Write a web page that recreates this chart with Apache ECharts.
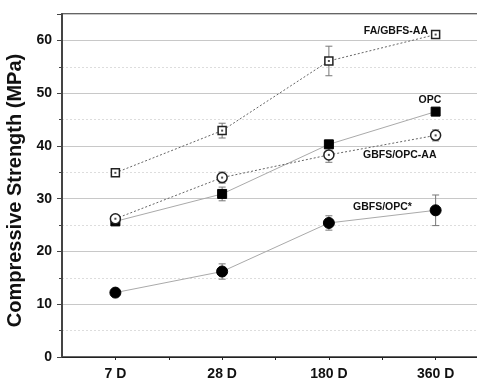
<!DOCTYPE html>
<html>
<head>
<meta charset="utf-8">
<script src="https://cdn.jsdelivr.net/npm/echarts@6/dist/echarts.min.js"></script>
<style>
  html, body { margin: 0; padding: 0; background: #fff; }
  #chart { width: 477px; height: 383px; }
</style>
</head>
<body>
<div id="chart"></div>
<script>
// curing ages (x categories)
const days = ['7 D', '28 D', '180 D', '360 D'];

// compressive strength, MPa
const faGbfsAA = [34.9, 42.9, 56.1, 61.1];
const faGbfsAAErr = [0.7, 1.4, 2.8, 0.5];
const opc = [25.7, 30.9, 40.3, 46.5];
const opcErr = [0.4, 1.3, 0.6, 0.5];
const gbfsOpcAA = [26.2, 34.0, 38.3, 42.0];
const gbfsOpcAAErr = [0.5, 1.05, 1.4, 1.05];
const gbfsOpc = [12.2, 16.2, 25.4, 27.8];
const gbfsOpcErr = [0.4, 1.45, 1.36, 2.9];

const FONT = '"Liberation Sans", Arial, sans-serif';

const toXY = (vals) => vals.map((v, i) => [i + 1, v]);
const toErr = (vals, errs) => vals.map((v, i) => [i + 1, v, errs[i]]);

const chart = echarts.init(document.getElementById('chart'));

function errorBarSeries(vals, errs) {
  return {
    type: 'custom',
    z: 1,
    silent: true,
    data: toErr(vals, errs),
    renderItem: function (params, api) {
      const x = api.value(0);
      const y = api.value(1);
      const e = api.value(2);
      const top = api.coord([x, y + e]);
      const bot = api.coord([x, y - e]);
      const cap = 3.5;
      const style = { stroke: '#777', lineWidth: 1 };
      return {
        type: 'group',
        children: [
          { type: 'line', shape: { x1: top[0], y1: top[1], x2: bot[0], y2: bot[1] }, style },
          { type: 'line', shape: { x1: top[0] - cap, y1: top[1], x2: top[0] + cap, y2: top[1] }, style },
          { type: 'line', shape: { x1: bot[0] - cap, y1: bot[1], x2: bot[0] + cap, y2: bot[1] }, style },
        ],
      };
    },
  };
}

function lineSeries(name, vals, symbol, size, filled, dashed) {
  return {
    name,
    type: 'line',
    z: 3,
    data: toXY(vals),
    symbol,
    symbolSize: size,
    showAllSymbol: true,
    lineStyle: dashed
      ? { color: '#666', width: 1, type: [2, 2] }
      : { color: '#aaa', width: 1 },
    itemStyle: filled
      ? { color: '#000', borderColor: '#000', borderWidth: 1 }
      : { color: '#fff', borderColor: '#222', borderWidth: 1.5 },
  };
}

// small centre dot on the open symbols
function centreDots(vals) {
  return {
    type: 'scatter',
    z: 4,
    silent: true,
    data: toXY(vals),
    symbol: 'rect',
    symbolSize: 2,
    itemStyle: { color: '#222' },
  };
}

const option = {
  backgroundColor: '#fff',
  animation: false,
  grid: {
    left: 62,
    right: -12,
    top: 14,
    bottom: 26,
    outerBoundsMode: 'none',
    show: true,
    borderColor: '#333',
    borderWidth: 1.5,
    backgroundColor: 'transparent',
  },
  xAxis: {
    type: 'value',
    min: 0.5,
    max: 4.5,
    interval: 0.5,
    axisLine: { show: true, lineStyle: { color: '#222', width: 1.2 } },
    axisTick: { show: true, length: 3, lineStyle: { color: '#222' } },
    splitLine: { show: false },
    axisLabel: {
      margin: 10,
      color: '#111',
      fontFamily: FONT,
      fontWeight: 'bold',
      fontSize: 14,
      showMinLabel: false,
      showMaxLabel: false,
      formatter: (v) => (Number.isInteger(v) && days[v - 1] ? days[v - 1] : ''),
    },
  },
  yAxis: {
    type: 'value',
    min: 0,
    max: 65,
    interval: 10,
    name: 'Compressive Strength (MPa)',
    nameLocation: 'middle',
    nameGap: 22,
    nameTextStyle: { color: '#111', fontFamily: FONT, fontWeight: 'bold', fontSize: 20, padding: [0, 10, 0, 0] },
    axisLine: { show: true, lineStyle: { color: '#444', width: 2 } },
    axisTick: { show: true, length: 5, lineStyle: { color: '#444' } },
    minorTick: { show: true, splitNumber: 2, length: 3, lineStyle: { color: '#444' } },
    splitLine: { show: true, lineStyle: { color: '#c8c8c8', width: 1 } },
    minorSplitLine: { show: true, lineStyle: { color: '#ddd', width: 1, type: [2, 2] } },
    axisLabel: {
      margin: 10,
      color: '#111',
      fontFamily: FONT,
      fontWeight: 'bold',
      fontSize: 14,
      showMaxLabel: false,
      formatter: (v) => (v % 10 === 0 ? String(v) : ''),
    },
  },
  graphic: [
    { type: 'text', style: { x: 428, y: 31, text: 'FA/GBFS-AA', align: 'right', verticalAlign: 'middle', font: 'bold 10.5px ' + FONT, fill: '#111' } },
    { type: 'text', style: { x: 430, y: 100, text: 'OPC', align: 'center', verticalAlign: 'middle', font: 'bold 10.5px ' + FONT, fill: '#111' } },
    { type: 'text', style: { x: 363, y: 155, text: 'GBFS/OPC-AA', align: 'left', verticalAlign: 'middle', font: 'bold 10.5px ' + FONT, fill: '#111' } },
    { type: 'text', style: { x: 353, y: 207, text: 'GBFS/OPC*', align: 'left', verticalAlign: 'middle', font: 'bold 10.5px ' + FONT, fill: '#111' } },
  ],
  series: [
    errorBarSeries(faGbfsAA, faGbfsAAErr),
    errorBarSeries(opc, opcErr),
    errorBarSeries(gbfsOpcAA, gbfsOpcAAErr),
    errorBarSeries(gbfsOpc, gbfsOpcErr),
    lineSeries('FA/GBFS-AA', faGbfsAA, 'rect', 8, false, true),
    lineSeries('OPC', opc, 'rect', 9, true, false),
    lineSeries('GBFS/OPC-AA', gbfsOpcAA, 'circle', 10, false, true),
    lineSeries('GBFS/OPC*', gbfsOpc, 'circle', 11, true, false),
    centreDots(faGbfsAA),
    centreDots(gbfsOpcAA),
  ],
};

chart.setOption(option);
</script>
</body>
</html>
